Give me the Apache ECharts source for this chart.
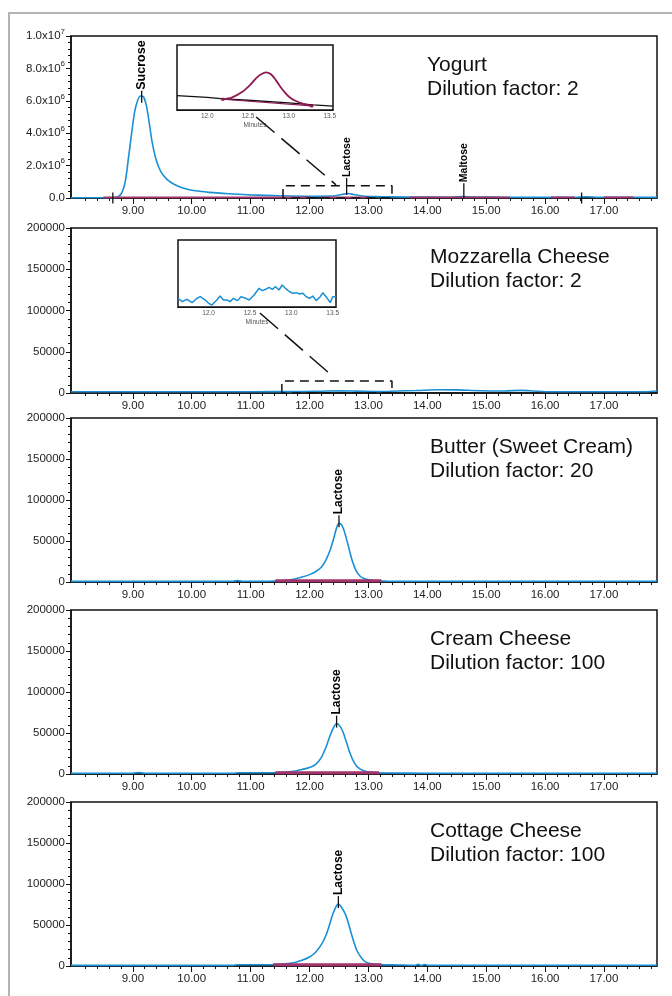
<!DOCTYPE html>
<html>
<head>
<meta charset="utf-8">
<script src="https://cdn.jsdelivr.net/npm/echarts@6/dist/echarts.min.js"></script>
<style>
html,body{margin:0;padding:0;background:#fff;}
#main{width:672px;height:996px;}
</style>
</head>
<body>
<div id="main"></div>
<script>
// chromatograms, minutes vs detector response
var xLabelTicks = [9, 10, 11, 12, 13, 14, 15, 16, 17];
var xMinorTicks = [8.2, 8.4, 8.6, 8.8, 9.2, 9.4, 9.6, 9.8, 10.2, 10.4, 10.6, 10.8, 11.2, 11.4, 11.6, 11.8,
  12.2, 12.4, 12.6, 12.8, 13.2, 13.4, 13.6, 13.8, 14.2, 14.4, 14.6, 14.8, 15.2, 15.4, 15.6, 15.8,
  16.2, 16.4, 16.6, 16.8, 17.2, 17.4, 17.6, 17.8];
var insetTicks = [12.0, 12.5, 13.0, 13.5];
var yogurtYLabels = ['0.0', '2.0x10{s|6}', '4.0x10{s|6}', '6.0x10{s|6}', '8.0x10{s|6}', '1.0x10{s|7}'];

var panelTitles = [
  'Yogurt\nDilution factor: 2',
  'Mozzarella Cheese\nDilution factor: 2',
  'Butter (Sweet Cream)\nDilution factor: 20',
  'Cream Cheese\nDilution factor: 100',
  'Cottage Cheese\nDilution factor: 100'
];

var yogurtTrace = [[7.95,2e4],[8.5,2e4],[8.7,3e4],[8.8,2.5e5],[8.87,1.0e6],[8.93,2.6e6],[8.98,4.0e6],[9.03,5.3e6],
  [9.08,6.0e6],[9.13,6.3e6],[9.18,6.25e6],[9.23,5.7e6],[9.28,4.6e6],[9.33,3.4e6],[9.4,2.3e6],[9.48,1.6e6],
  [9.58,1.15e6],[9.7,0.85e6],[9.85,0.62e6],[10.0,0.48e6],[10.3,0.35e6],[10.7,0.25e6],[11.0,0.19e6],[11.5,0.14e6],
  [12.0,0.11e6],[12.4,0.12e6],[12.55,0.22e6],[12.65,0.28e6],[12.75,0.22e6],[12.9,0.12e6],[13.2,0.08e6],
  [13.6,0.06e6],[14.4,0.05e6],[14.6,0.09e6],[14.8,0.06e6],[15.3,0.05e6],[16.5,0.05e6],[16.7,0.08e6],
  [16.9,0.05e6],[17.9,0.04e6]];
var yogurtBaselineSegments = [
  [[8.5,4e4],[12.0,4e4]],
  [[12.2,4e4],[13.0,4e4]],
  [[13.7,4e4],[15.4,4e4]],
  [[16.1,4e4],[16.5,4e4]],
  [[17.0,4e4],[17.5,4e4]]
];
var yogurtBox = [[11.55,0],[11.55,0.75e6],[13.4,0.75e6],[13.4,0],[11.55,0]];
var yogurtPeaks = [
  {name: 'Sucrose', value: [9.15, 6.25e6], size: 12, off: 0, font: 12.5},
  {name: 'Lactose', value: [12.63, 0.28e6], size: 17, off: -7, font: 10.5},
  {name: 'Maltose', value: [14.62, 0.08e6], size: 15, off: -6, font: 10.5}
];
var yogurtIntegrationMarks = [[8.66, 0], [16.62, 0]];

var yogurtInsetTrace = [[11.63,22],[12.0,19.5],[12.2,17],[12.5,15],[13.0,11],[13.3,8],[13.54,6]];
var yogurtInsetPeak = [[12.19,16.5],[12.3,19],[12.43,28],[12.52,38],[12.6,49],[12.66,55],[12.72,58],[12.78,55],
  [12.84,46],[12.9,35],[12.96,25.7],[13.02,18.5],[13.08,14.3],[13.18,9.5],[13.28,6.2]];
var yogurtInsetBaseline = [[12.19,16.5],[13.28,6.2]];

var mozzTrace = [[7.95,1500],[9,1500],[10,1500],[11,1600],[11.8,1700],[12.2,2200],[12.5,2600],[12.8,2300],
  [13.2,1800],[13.5,2500],[13.8,3000],[14.2,4000],[14.5,3800],[14.9,2800],[15.3,2500],[15.6,3200],[15.8,2500],
  [16.0,1600],[17.0,1500],[17.7,1600],[17.9,2500]];
var mozzBox = [[11.53,0],[11.53,14500],[13.4,14500],[13.4,0],[11.53,0]];
var mozzInsetTrace = [[11.63,13],[11.68,8],[11.74,11.5],[11.80,6.5],[11.86,13],[11.90,15.4],[11.96,10.4],
  [12.00,5.5],[12.04,3],[12.06,1.5],[12.10,10.4],[12.14,16.4],[12.18,10.4],[12.22,10.4],[12.26,8],[12.30,13],
  [12.35,9.5],[12.39,15.4],[12.45,13],[12.49,10.4],[12.55,18],[12.61,28],[12.65,24.4],[12.69,26.4],[12.73,29.4],
  [12.77,26.4],[12.81,30.3],[12.85,25.4],[12.89,32.8],[12.93,27.5],[12.98,22.8],[13.02,20.4],[13.06,21.4],
  [13.10,19.4],[13.14,20.4],[13.18,15.4],[13.22,13],[13.26,16.4],[13.30,9.5],[13.35,15.4],[13.38,21.4],
  [13.42,15.4],[13.47,6.5],[13.50,15.4],[13.54,15.4]];

var butterTrace = [[7.95,800],[9.0,800],[10.0,800],[10.7,900],[10.78,1800],[10.85,900],[11.2,1000],[11.5,1600],
  [11.7,3000],[11.87,6000],[12.0,9000],[12.1,12500],[12.2,18000],[12.28,27000],[12.35,39000],[12.41,53000],
  [12.46,66000],[12.5,71500],[12.54,70000],[12.58,64000],[12.63,52000],[12.68,38000],[12.73,25000],
  [12.79,14000],[12.86,7000],[12.95,3500],[13.1,1800],[13.3,1100],[14.0,900],[17.9,900]];
var butterBaseline = [[11.42,1600],[13.22,1600]];

var creamTrace = [[7.95,800],[9.0,900],[9.1,1800],[9.2,900],[10.7,900],[10.8,1500],[11.4,1600],[11.7,3000],
  [11.87,5500],[12.0,8000],[12.1,11500],[12.2,20000],[12.28,33000],[12.35,47000],[12.41,57000],[12.46,61500],
  [12.51,59000],[12.57,51000],[12.63,38000],[12.69,25000],[12.75,15000],[12.82,8000],[12.92,4000],
  [13.05,2000],[13.3,1200],[14.0,1000],[17.9,1000]];
var creamBaseline = [[11.42,1600],[13.18,1600]];

var cottageTrace = [[7.95,800],[10.7,800],[10.78,1500],[11.4,1700],[11.7,3500],[11.87,7000],[12.0,11000],
  [12.1,16500],[12.2,26000],[12.27,36000],[12.33,48000],[12.38,60000],[12.44,71000],[12.49,75500],
  [12.54,72000],[12.61,63000],[12.66,52000],[12.7,42000],[12.75,30000],[12.8,19500],[12.88,10000],
  [12.95,5000],[13.05,2600],[13.2,1700],[13.5,1300],[13.8,1000],[13.85,2000],[13.9,500],[13.95,1800],
  [14.0,1000],[17.9,1000]];
var cottageBaseline = [[11.38,1600],[13.22,1600]];

var lactosePeaks = [[12.5, 71500], [12.46, 61500], [12.49, 75500]];

var BLUE = '#1b8fd3';
var PURPLE = '#a3336b';
var INSET_PURPLE = '#8c1a52';
var FONT = 'Liberation Sans, Arial, sans-serif';

var gridTops = [36, 228, 418, 610, 802];
var gridHeights = [162, 165, 164, 164, 164];

var chart = echarts.init(document.getElementById('main'));

// axis index layout: 0-4 main panels, 5-6 insets, 7-11 minor tick overlays (x only)
var grids = [], xAxes = [], yAxes = [], titles = [];
gridTops.forEach(function (t, i) {
  grids.push({left: 71, width: 586, top: t, height: gridHeights[i], show: true,
    borderColor: '#111', borderWidth: 1.5, backgroundColor: 'transparent'});
  xAxes.push({type: 'value', gridIndex: i, min: 7.95, max: 17.9, position: 'bottom',
    splitLine: {show: false},
    axisLine: {lineStyle: {color: '#111', width: 1.5}},
    axisTick: {customValues: xLabelTicks, length: 6, lineStyle: {color: '#111'}},
    axisLabel: {customValues: xLabelTicks, formatter: function (v) { return v.toFixed(2); },
      fontSize: 11.5, color: '#222', fontFamily: FONT, margin: 7}});
  titles.push({text: panelTitles[i], left: i === 0 ? 427 : 430, top: t + 17, padding: 0,
    textStyle: {fontSize: 21, fontWeight: 'normal', lineHeight: 24, color: '#111', fontFamily: FONT}});
  var y = {type: 'value', gridIndex: i, min: 0, splitLine: {show: false},
    axisLine: {show: true, lineStyle: {color: '#111', width: 1.5}},
    axisTick: {length: 5, lineStyle: {color: '#111'}},
    minorTick: {show: true, splitNumber: 5, length: 3, lineStyle: {color: '#111'}},
    axisLabel: {fontSize: 11.5, color: '#222', fontFamily: FONT, margin: 6}};
  if (i === 0) {
    y.max = 1e7; y.interval = 2e6;
    y.axisLabel.formatter = function (v) { return yogurtYLabels[Math.round(v / 2e6)]; };
    y.axisLabel.rich = {s: {fontSize: 8, fontFamily: FONT, color: '#222', padding: [0, 0, 9, 0]}};
  } else {
    y.max = 200000; y.interval = 50000;
    y.axisLabel.formatter = function (v) { return String(v); };
  }
  yAxes.push(y);
});

var insets = [{left: 177, top: 45, width: 156, height: 65}, {left: 178, top: 240, width: 158, height: 67}];
insets.forEach(function (g, k) {
  grids.push({left: g.left, top: g.top, width: g.width, height: g.height, show: true,
    borderColor: '#111', borderWidth: 1.5, backgroundColor: '#fff'});
  xAxes.push({type: 'value', gridIndex: 5 + k, min: 11.63, max: 13.54, splitLine: {show: false},
    axisLine: {lineStyle: {color: '#111', width: 1.2}},
    axisTick: {show: false},
    axisLabel: {customValues: insetTicks, formatter: function (v) { return v.toFixed(1); },
      fontSize: 6.5, color: '#555', fontFamily: FONT, margin: 3},
    name: 'Minutes', nameLocation: 'middle', nameGap: 12,
    nameTextStyle: {fontSize: 6.5, color: '#555', fontFamily: FONT}});
  yAxes.push({type: 'value', gridIndex: 5 + k, min: 0, max: 100, splitLine: {show: false},
    axisLine: {show: false}, axisTick: {show: false}, axisLabel: {show: false}});
});

gridTops.forEach(function (t, i) {
  xAxes.push({type: 'value', gridIndex: i, min: 7.95, max: 17.9, position: 'bottom',
    splitLine: {show: false}, axisLine: {show: false},
    axisTick: {customValues: xMinorTicks, length: 3, lineStyle: {color: '#111'}},
    axisLabel: {show: false}});
});

function trace(i, data, color, width) {
  return {type: 'line', xAxisIndex: i, yAxisIndex: i, data: data, showSymbol: false, symbol: 'none',
    smooth: 0.3, lineStyle: {color: color, width: width}, silent: true, z: 3};
}
function straight(i, data, color, width, z) {
  return {type: 'line', xAxisIndex: i, yAxisIndex: i, data: data, symbol: 'none',
    lineStyle: {color: color, width: width}, silent: true, z: z || 4};
}
function dashedBox(i, data) {
  return {type: 'line', xAxisIndex: i, yAxisIndex: i, data: data, symbol: 'none',
    lineStyle: {color: '#111', width: 1.5, type: [9, 6]}, silent: true, z: 5};
}
function peakSeries(i, items) {
  return {type: 'scatter', xAxisIndex: i, yAxisIndex: i, silent: true, z: 6,
    itemStyle: {opacity: 1},
    data: items.map(function (p) {
      return {name: p.name, value: p.value, symbol: 'rect', symbolSize: [1.3, p.size], symbolOffset: [0, p.off],
        itemStyle: {color: '#111', opacity: 1},
        label: {show: true, formatter: '{b}', position: 'top', rotate: 90, align: 'left', verticalAlign: 'middle',
          distance: 1, fontSize: p.font, fontWeight: 'bold', color: '#000', opacity: 1, fontFamily: FONT}};
    })};
}

var series = [
  trace(0, yogurtTrace, BLUE, 1.6),
  dashedBox(0, yogurtBox),
  peakSeries(0, yogurtPeaks),
  {type: 'scatter', xAxisIndex: 0, yAxisIndex: 0, data: yogurtIntegrationMarks, symbol: 'rect',
    symbolSize: [1.3, 11], itemStyle: {color: '#111', opacity: 1}, silent: true, z: 6},

  trace(1, mozzTrace, BLUE, 1.6),
  dashedBox(1, mozzBox),

  trace(2, butterTrace, BLUE, 1.6),
  straight(2, butterBaseline, PURPLE, 3),
  peakSeries(2, [{name: 'Lactose', value: lactosePeaks[0], size: 12, off: -2, font: 12}]),

  trace(3, creamTrace, BLUE, 1.6),
  straight(3, creamBaseline, PURPLE, 3),
  peakSeries(3, [{name: 'Lactose', value: lactosePeaks[1], size: 12, off: -2, font: 12}]),

  trace(4, cottageTrace, BLUE, 1.6),
  straight(4, cottageBaseline, PURPLE, 3),
  peakSeries(4, [{name: 'Lactose', value: lactosePeaks[2], size: 12, off: -2, font: 12}]),

  // insets
  straight(5, yogurtInsetTrace, '#111', 1.3, 3),
  trace(5, yogurtInsetPeak, INSET_PURPLE, 1.8),
  {type: 'line', xAxisIndex: 5, yAxisIndex: 5, data: yogurtInsetBaseline, symbol: 'rect', symbolSize: 3,
    itemStyle: {color: INSET_PURPLE}, lineStyle: {color: INSET_PURPLE, width: 1.2}, silent: true, z: 4},
  {type: 'line', xAxisIndex: 6, yAxisIndex: 6, data: mozzInsetTrace, symbol: 'none',
    lineStyle: {color: BLUE, width: 1.5}, silent: true, z: 3}
];
yogurtBaselineSegments.forEach(function (seg) {
  series.push(straight(0, seg, PURPLE, 1.8));
});

chart.setOption({
  backgroundColor: '#fff',
  animation: false,
  title: titles,
  grid: grids,
  xAxis: xAxes,
  yAxis: yAxes,
  series: series
});

// outer frame and zoom connectors, placed through the chart's own scales
function px(gi, pt) { return chart.convertToPixel({gridIndex: gi}, pt); }
var a1 = px(5, [12.6, 0]), b1 = px(0, [12.45, 0.75e6]);
var a2 = px(6, [12.62, 0]), b2 = px(1, [12.35, 14500]);
chart.setOption({
  graphic: [
    {type: 'polyline', shape: {points: [[9, 996], [9, 13], [672, 13]]},
      style: {stroke: '#b4b4b4', lineWidth: 2, fill: null}, silent: true},
    {type: 'line', shape: {x1: a1[0], y1: a1[1] + 7, x2: b1[0], y2: b1[1] - 1},
      style: {stroke: '#111', lineWidth: 1.5, lineDash: [24, 9]}, silent: true, z: 10},
    {type: 'line', shape: {x1: a2[0], y1: a2[1] + 6, x2: b2[0], y2: b2[1] - 7},
      style: {stroke: '#111', lineWidth: 1.5, lineDash: [24, 9]}, silent: true, z: 10}
  ]
});
</script>
</body>
</html>
